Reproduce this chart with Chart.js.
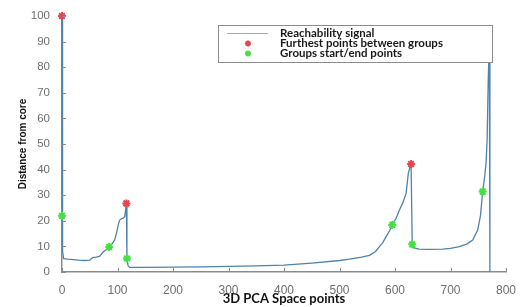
<!DOCTYPE html>
<html>
<head>
<meta charset="utf-8">
<script src="https://cdn.jsdelivr.net/npm/chart.js@4/dist/chart.umd.min.js"></script>
<style>
  html, body { margin: 0; padding: 0; background: #fff; }
  #wrap { width: 521px; height: 307px; }
</style>
</head>
<body>
<div id="wrap"><canvas id="myChart" width="521" height="307"></canvas></div>
<script>
//  reachability signal
let signalX = [0, 1, 3, 10, 20, 30, 40, 50, 55, 62, 68, 74, 80, 85, 90, 95, 99, 102, 104, 107, 110, 113, 115, 116, 117, 119, 122,
    150, 200, 250, 300, 350, 400, 450, 500, 518, 540, 554, 565, 572, 578, 584, 590, 595, 602, 608, 614, 620, 624, 627, 629,
    631, 633, 643, 660, 686, 700, 716, 730, 740, 749, 754, 758, 762, 764, 766, 768, 770, 771]
let signalY = [100, 8, 5.2, 5, 4.8, 4.6, 4.5, 4.6, 5.6, 5.8, 6.2, 7.8, 8.8, 9.8, 11, 12.5, 16, 19, 20.3, 20.8, 21, 21.6, 25, 26.8, 5.3, 2.5, 1.8,
    1.8, 1.9, 2.0, 2.2, 2.4, 2.7, 3.5, 4.5, 5, 5.8, 6.5, 8, 9.9, 11.5, 13.8, 16, 18.4, 21, 24.2, 27, 30.7, 38.5, 41, 42.2,
    10.8, 9.5, 8.9, 8.8, 8.9, 9.2, 9.9, 11, 12.5, 16.4, 22, 31.4, 38, 42.5, 51.6, 75, 90, 0]

//  furthest points between groups (red) and group start/end points (green)
let furthestX = [0, 116, 629]
let furthestY = [100, 26.8, 42.2]
let groupX = [0, 85, 117, 595, 631, 758]
let groupY = [22, 9.8, 5.3, 18.4, 10.8, 31.4]

//  ticks and labels
let xTicks = [0, 100, 200, 300, 400, 500, 600, 700, 800]
let yTicks = [0, 10, 20, 30, 40, 50, 60, 70, 80, 90, 100]
let labels = ['Reachability signal', 'Furthest points between groups', 'Groups start/end points']

let lineColor = '#4d83ad',
    redColor = '#e84550',
    greenColor = '#44e044',
    axisColor = '#8a8a8a'

function toPoints(xs, ys) {
    return xs.map((x, i) => ({ x: x, y: ys[i] }))
}

//  matlab style inward ticks + boxed legend drawn over the plot
const overlay = {
  id: 'overlay',
  afterDatasetsDraw(chart) {
    const c = chart.ctx, xs = chart.scales.x, ys = chart.scales.y
    c.save()
    c.strokeStyle = axisColor
    c.lineWidth = 1
    c.beginPath()
    xTicks.forEach(t => {
      const px = Math.round(xs.getPixelForValue(t)) + 0.5
      c.moveTo(px, ys.bottom); c.lineTo(px, ys.bottom - 4)
    })
    yTicks.forEach(t => {
      const py = Math.round(ys.getPixelForValue(t)) + 0.5
      c.moveTo(xs.left, py); c.lineTo(xs.left + 4, py)
    })
    c.stroke()
    c.restore()
  },
  afterDraw(chart) {
    const c = chart.ctx
    const bx = 218, by = 25, bw = 274, bh = 37
    c.save()
    c.fillStyle = '#fff'
    c.fillRect(bx, by, bw, bh)
    c.strokeStyle = '#8c8c8c'
    c.lineWidth = 1
    c.strokeRect(bx + 0.5, by + 0.5, bw, bh)
    // line sample
    c.strokeStyle = '#8fb3cc'
    c.lineWidth = 1.2
    c.beginPath(); c.moveTo(227, 33.5); c.lineTo(268, 33.5); c.stroke()
    // star samples
    drawStar(c, 248, 43.5, redColor)
    drawStar(c, 248, 53.5, greenColor)
    c.fillStyle = '#1a1a1a'
    c.font = 'bold 11.5px Lato'
    c.textBaseline = 'middle'
    labels.forEach((t, i) => c.fillText(t, 280, 33 + i * 10.2))
    c.restore()
  }
}

function drawStar(c, x, y, col) {
  c.strokeStyle = col
  c.lineWidth = 1.8
  c.beginPath()
  for (let k = 0; k < 4; k++) {
    const a = k * Math.PI / 4
    c.moveTo(x - 3 * Math.cos(a), y - 3 * Math.sin(a))
    c.lineTo(x + 3 * Math.cos(a), y + 3 * Math.sin(a))
  }
  c.stroke()
}

const ctx = document.getElementById('myChart')

new Chart(ctx, {
  type: 'scatter',
  data: {
    datasets: [{
      label: labels[1],
      data: toPoints(furthestX, furthestY),
      pointStyle: 'star',
      pointRadius: 4,
      borderColor: redColor,
      backgroundColor: redColor,
      pointBorderWidth: 2,
      clip: false,
      order: 0
    }, {
      label: labels[2],
      data: toPoints(groupX, groupY),
      pointStyle: 'star',
      pointRadius: 4,
      borderColor: greenColor,
      backgroundColor: greenColor,
      pointBorderWidth: 2,
      clip: false,
      order: 1
    }, {
      label: labels[0],
      data: toPoints(signalX, signalY),
      showLine: true,
      borderColor: lineColor,
      borderWidth: 1.3,
      pointRadius: 0,
      tension: 0,
      clip: false,
      order: 2
    }]
  },
  options: {
    responsive: false,
    animation: false,
    layout: { padding: { top: 16, right: 15, left: 0, bottom: 0 } },
    plugins: {
      legend: { display: false },
      tooltip: { enabled: false }
    },
    scales: {
      x: {
        type: 'linear',
        min: 0,
        max: 800,
        afterBuildTicks: s => { s.ticks = xTicks.map(v => ({ value: v })) },
        afterFit: s => { s.height = 35 },
        grid: { display: false },
        border: { color: axisColor, width: 1.5 },
        ticks: { color: '#6e6e6e', font: { family: 'Liberation Sans', size: 12 }, padding: 3, maxRotation: 0 },
        title: {
          display: true,
          text: '3D PCA Space points',
          color: '#111',
          font: { family: 'Lato', weight: 'bold', size: 13 },
          padding: { top: 0, bottom: 0 }
        }
      },
      y: {
        min: 0,
        max: 100,
        afterBuildTicks: s => { s.ticks = yTicks.map(v => ({ value: v })) },
        afterFit: s => { s.width = 62 },
        grid: { display: false },
        border: { color: axisColor, width: 1.5 },
        ticks: { color: '#6e6e6e', font: { family: 'Liberation Sans', size: 11.5 }, padding: 4 },
        title: {
          display: true,
          text: 'Distance from core',
          color: '#111',
          font: { family: 'Liberation Sans', weight: 'bold', size: 10 },
          padding: { top: 17, bottom: 0 }
        }
      }
    }
  },
  plugins: [overlay]
})
</script>
</body>
</html>
